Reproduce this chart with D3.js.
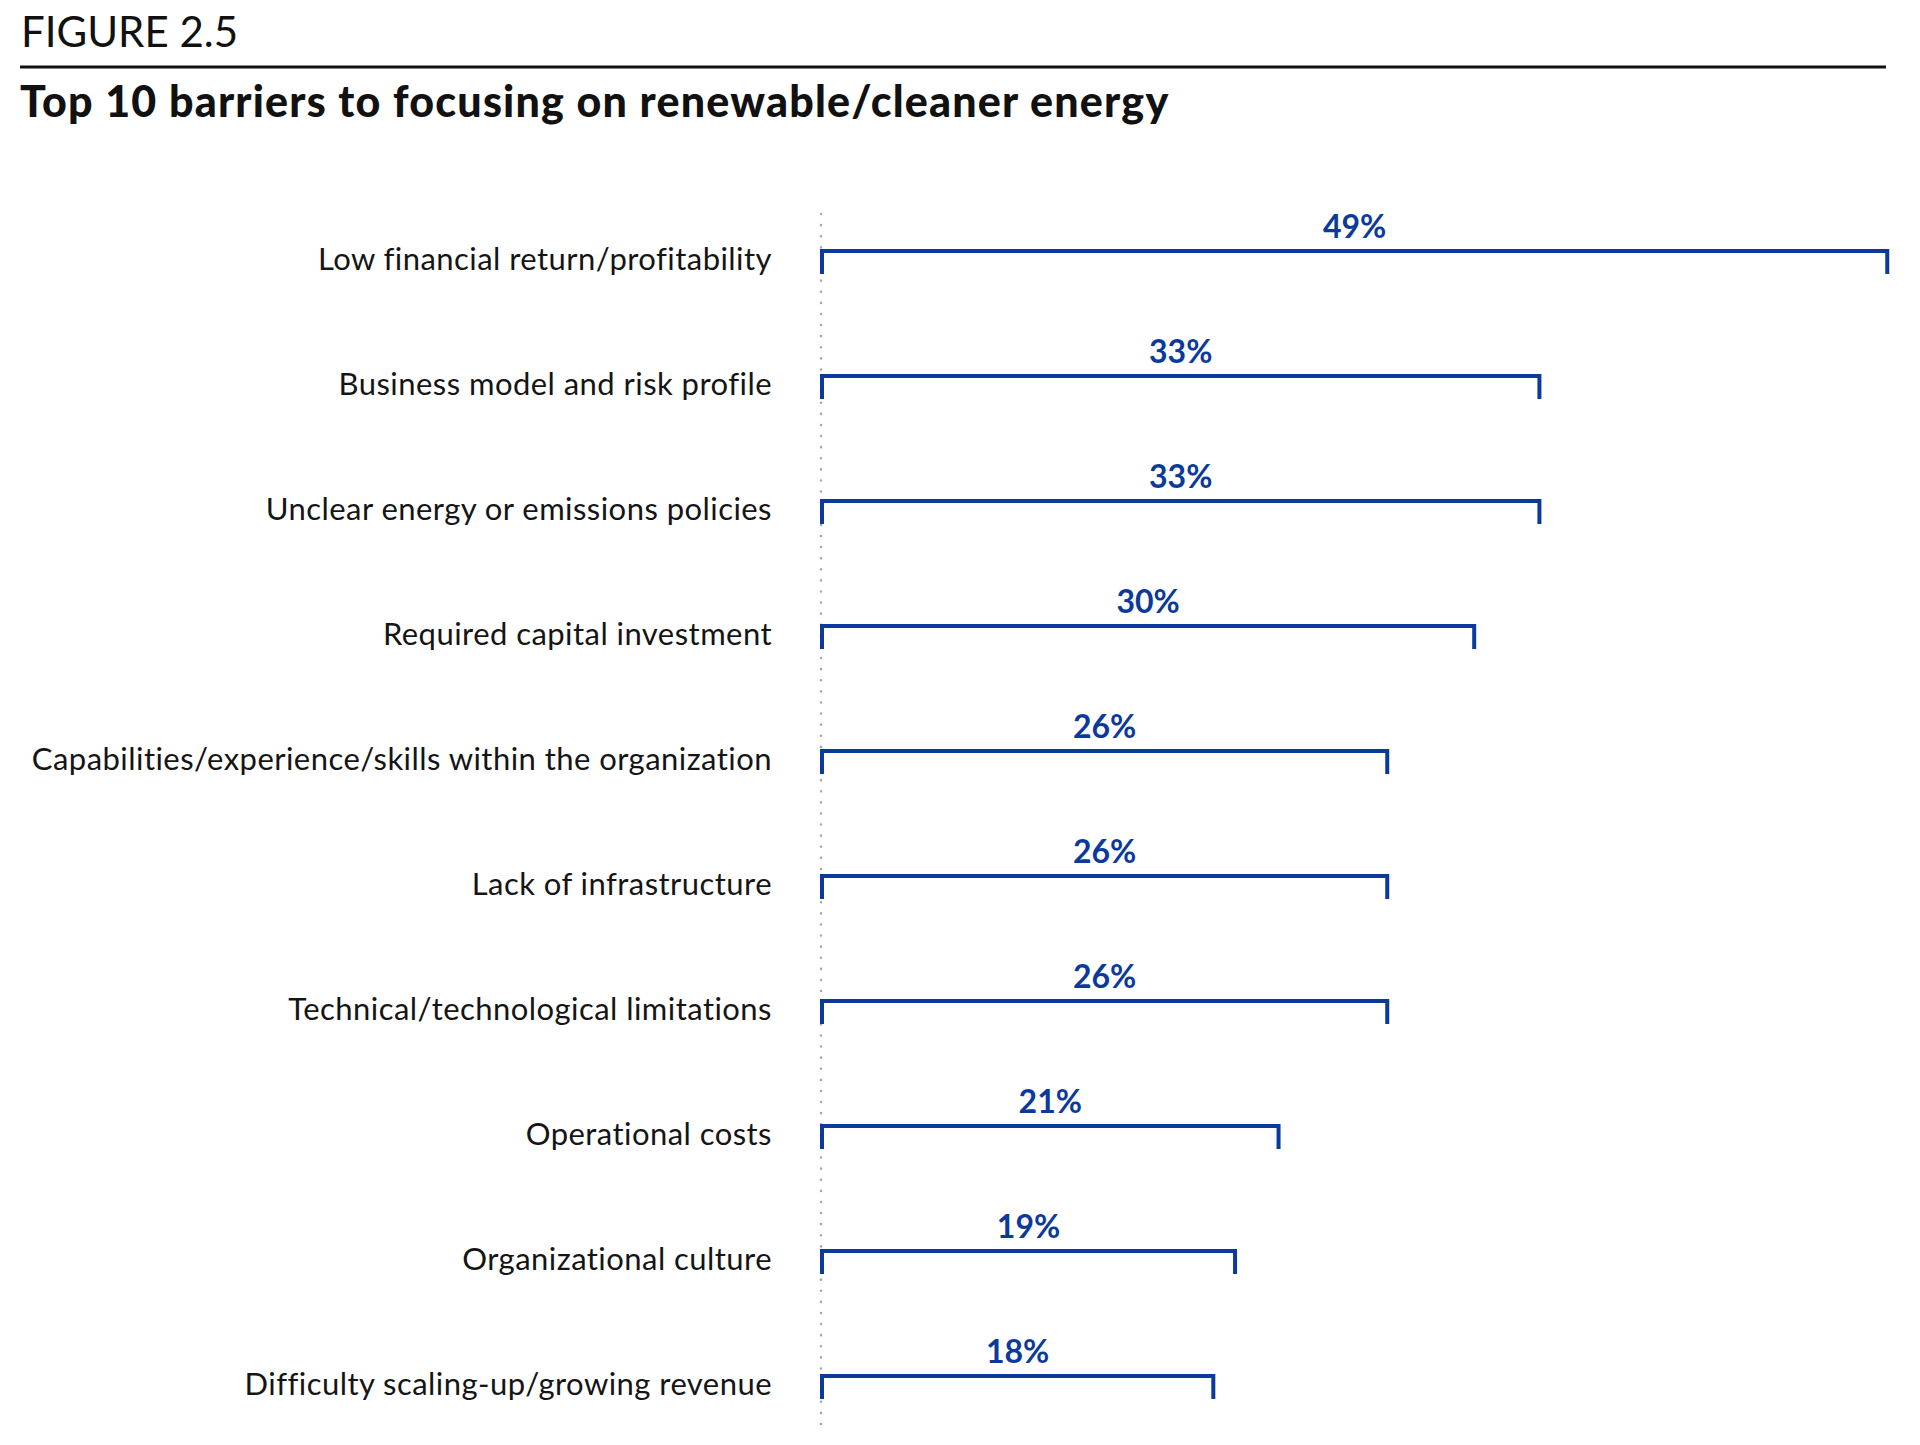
<!DOCTYPE html>
<html>
<head>
<meta charset="utf-8">
<script src="https://cdn.jsdelivr.net/npm/d3@7"></script>
<style>
  body { margin: 0; background: #fff; }
  text { font-family: Lato, "Noto Sans", sans-serif; }
</style>
</head>
<body>
<div class="container"></div>
<script>
const WIDTH = 1920;
const HEIGHT = 1445;
const BLUE = "#0b3a9c";

var categories = [
    "Low financial return/profitability",
    "Business model and risk profile",
    "Unclear energy or emissions policies",
    "Required capital investment",
    "Capabilities/experience/skills within the organization",
    "Lack of infrastructure",
    "Technical/technological limitations",
    "Operational costs",
    "Organizational culture",
    "Difficulty scaling-up/growing revenue"
];
var values = [49, 33, 33, 30, 26, 26, 26, 21, 19, 18];

var rows = categories.map(function (c, i) {
    return { name: c, value: values[i] };
});

var xScale = d3.scaleLinear()
    .domain([0, 50])
    .range([822, 1909]);

var yScale = d3.scalePoint()
    .domain(categories)
    .range([251, 1376]);

var TICK = 23;

var draw = function () {
    var svg = d3.select(".container").append("svg")
        .attr("width", WIDTH)
        .attr("height", HEIGHT);

    // header
    svg.append("text")
        .attr("x", 21)
        .attr("y", 47)
        .attr("font-size", 42)
        .attr("fill", "#111")
        .text("FIGURE 2.5");

    svg.append("line")
        .attr("x1", 20).attr("x2", 1886)
        .attr("y1", 67).attr("y2", 67)
        .attr("stroke", "#111")
        .attr("stroke-width", 3);

    svg.append("text")
        .attr("x", 20)
        .attr("y", 117)
        .attr("font-size", 43)
        .attr("font-weight", 900)
        .attr("letter-spacing", 1.2)
        .attr("fill", "#111")
        .text("Top 10 barriers to focusing on renewable/cleaner energy");

    // dotted baseline
    svg.append("line")
        .attr("x1", xScale(0) - 1).attr("x2", xScale(0) - 1)
        .attr("y1", 214).attr("y2", 1430)
        .attr("stroke", "#a8a8a8")
        .attr("stroke-width", 2.5)
        .attr("stroke-linecap", "round")
        .attr("stroke-dasharray", "0.1 11");

    var row = svg.append("g").selectAll(".row")
        .data(rows)
        .enter().append("g")
        .attr("class", "row")
        .attr("transform", function (d) {
            return "translate(0," + yScale(d.name) + ")";
        });

    row.append("text")
        .attr("x", 772)
        .attr("y", 19)
        .attr("text-anchor", "end")
        .attr("font-size", 31)
        .attr("letter-spacing", 0.45)
        .attr("fill", "#151515")
        .text(function (d) { return d.name; });

    row.append("path")
        .attr("d", function (d) {
            return "M" + xScale(0) + "," + TICK +
                "V0H" + xScale(d.value) + "V" + TICK;
        })
        .attr("fill", "none")
        .attr("stroke", BLUE)
        .attr("stroke-width", 4)
        .attr("stroke-linejoin", "miter");

    row.append("text")
        .attr("x", function (d) { return (xScale(0) + xScale(d.value)) / 2; })
        .attr("y", -13)
        .attr("text-anchor", "middle")
        .attr("font-size", 32)
        .attr("font-weight", 700)
        .attr("fill", BLUE)
        .text(function (d) { return d.value + "%"; });
};

window.onload = draw;
</script>
</body>
</html>
